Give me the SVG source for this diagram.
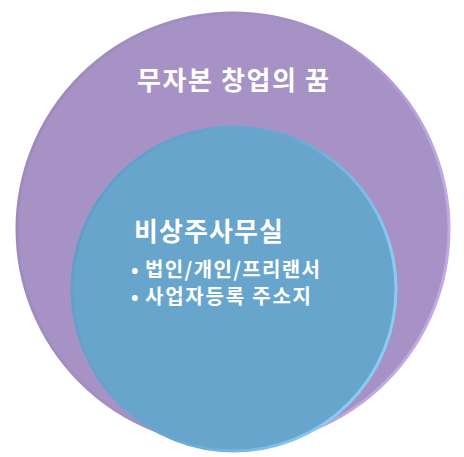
<svg xmlns="http://www.w3.org/2000/svg" width="464" height="457" viewBox="0 0 464 457">
  <defs>
    <linearGradient id="rimOuter" x1="0" y1="0" x2="1" y2="0.3">
      <stop offset="0" stop-color="#9d88bc"/>
      <stop offset="0.7" stop-color="#a792c6"/>
      <stop offset="1" stop-color="#c2a8e6"/>
    </linearGradient>
    <linearGradient id="rimInner" x1="0" y1="0" x2="1" y2="0.4">
      <stop offset="0" stop-color="#5f9cc4"/>
      <stop offset="0.6" stop-color="#6aa8d1"/>
      <stop offset="1" stop-color="#86cdf3"/>
    </linearGradient>
    <style>
      .t { font-family: "Noto Sans CJK KR", "Noto Sans", sans-serif; font-weight: bold; fill: #ffffff; }
      .h { font-size: 26px; }
      .b { font-size: 20px; }
    </style>
  </defs>
  <rect width="464" height="457" fill="#ffffff"/>
  <g id="outer">
    <circle cx="233" cy="229" r="216" fill="#a692c4" stroke="url(#rimOuter)" stroke-width="3"/>
    <text class="t h" x="137" y="90" textLength="192" lengthAdjust="spacing">무자본 창업의 꿈</text>
  </g>
  <g id="inner">
    <circle cx="234" cy="289" r="162" fill="#67a5cd" stroke="url(#rimInner)" stroke-width="3"/>
    <text class="t h" x="134" y="241" textLength="149" lengthAdjust="spacing">비상주사무실</text>
    <text class="t b" x="131" y="277">•</text>
    <text class="t b" x="145" y="277" textLength="175" lengthAdjust="spacing">법인/개인/프리랜서</text>
    <text class="t b" x="131" y="304">•</text>
    <text class="t b" x="145" y="304" textLength="166" lengthAdjust="spacing">사업자등록 주소지</text>
  </g>
</svg>
